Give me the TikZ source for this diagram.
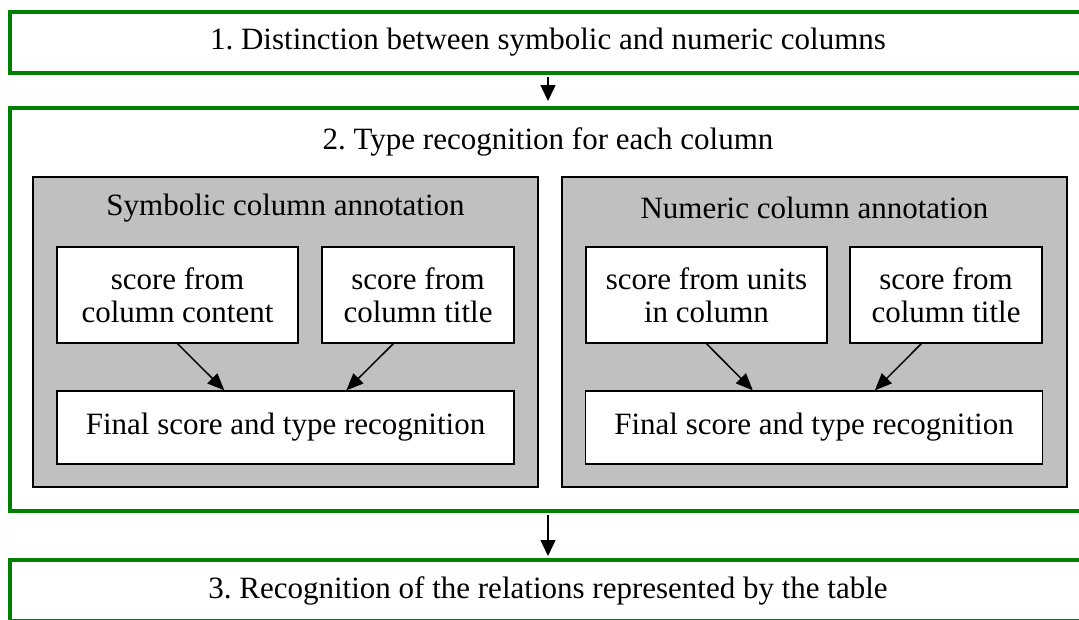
\documentclass[tikz,border=0pt]{standalone}
\usepackage{fontspec}
\setmainfont{Liberation Serif}
\newfontfamily\diagfont{Liberation Serif}
\usetikzlibrary{positioning,arrows.meta,calc}

\definecolor{stagegreen}{RGB}{0,128,0}
\definecolor{panelgray}{RGB}{192,192,192}

\begin{document}
\begin{tikzpicture}[
    x=1pt, y=-1pt,
    every node/.style={font=\diagfont\fontsize{31}{33}\selectfont},
    stage/.style={
        rectangle,
        draw=stagegreen,
        line width=4pt,
        fill=white,
        inner sep=0pt,
        minimum width=1076pt
    },
    panel/.style={
        rectangle,
        draw=black,
        line width=2pt,
        fill=panelgray,
        inner sep=0pt,
        minimum width=505pt,
        minimum height=310pt
    },
    score/.style={
        rectangle,
        draw=black,
        line width=1.3pt,
        fill=white,
        align=center,
        inner sep=0pt,
        minimum height=96pt
    },
    final/.style={score, minimum width=457pt, minimum height=73pt},
    line/.style={draw, line width=1.5pt, -{Triangle[length=17pt,width=14pt]}},
    stageline/.style={draw, line width=1.5pt, -{Triangle[length=16pt,width=15pt]}}
]

% Page
\fill [white] (0,0) rectangle (1079,619);
\clip (0,0) rectangle (1079,619);

% Stages
\node [stage, minimum height=61pt] (step1) at (548,42.5) {1.\ Distinction between symbolic and numeric columns};
\node [stage, minimum height=403pt] (step2) at (548,309.5) {};
\node (step2title) at (548,142) {2.\ Type recognition for each column};
\node [stage, minimum height=61pt] (step3) at (548,590.5) {3.\ Recognition of the relations represented by the table};

% Symbolic column annotation
\node [panel] (symb) at (285.5,332) {};
\node (symbtitle) at (285.5,208) {Symbolic column annotation};
\node [score, minimum width=241pt] (symbcontent) at (177.5,295) {score from\\column content};
\node [score, minimum width=192pt] (symbcoltitle) at (418,295) {score from\\column title};
\node [final] (symbfinal) at (285.5,427.5) {Final score and type recognition};

% Numeric column annotation
\node [panel] (num) at (814.5,332) {};
\node (numtitle) at (814.5,208) {Numeric column annotation};
\node [score, minimum width=241pt] (numunits) at (706.5,295) {score from units\\in column};
\node [score, minimum width=192pt] (numcoltitle) at (946,295) {score from\\column title};
\node [final] (numfinal) at (814,427.5) {Final score and type recognition};

% Connections
\draw [stageline, shorten <=2pt, shorten >=5pt] (step1.south) -- (step2.north);
\draw [stageline, shorten <=2pt, shorten >=2pt] (step2.south) -- (step3.north);

\draw [line] (symbcontent.south) -- ($(symbfinal.north west)+(168,0)$);
\draw [line] ($(symbcoltitle.south west)+(72,0)$) -- ($(symbfinal.north west)+(290,0)$);
\draw [line] (numunits.south) -- ($(numfinal.north west)+(168,0)$);
\draw [line] ($(numcoltitle.south west)+(72,0)$) -- ($(numfinal.north west)+(290,0)$);

\end{tikzpicture}
\end{document}
